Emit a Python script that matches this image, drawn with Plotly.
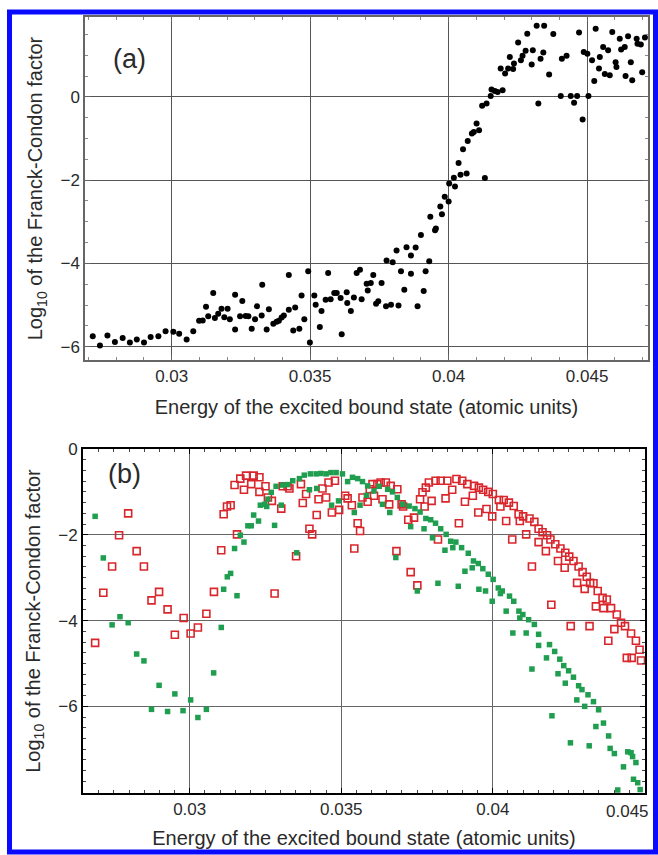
import plotly.graph_objects as go

# ---------------- data: panel (a) ----------------
A_X = [0.02715,0.02741,0.02768,0.02795,0.02823,0.02849,0.02874,0.02900,0.02924,0.02952,
       0.02978,0.03006,0.03027,0.03054,0.03078,0.03099,0.03112,0.03124,0.03132,0.03150,
       0.03156,0.03168,0.03180,0.03190,0.03202,0.03210,0.03229,0.03229,0.03247,0.03255,
       0.03267,0.03277,0.03289,0.03301,0.03308,0.03325,0.03327,0.03343,0.03351,0.03367,
       0.03379,0.03387,0.03397,0.03405,0.03423,0.03423,0.03439,0.03446,0.03461,0.03469,
       0.03479,0.03493,0.03499,0.03515,0.03520,0.03535,0.03541,0.03556,0.03565,0.03574,
       0.03587,0.03596,0.03610,0.03614,0.03632,0.03634,0.03647,0.03658,0.03668,0.03680,
       0.03686,0.03704,0.03708,0.03719,0.03728,0.03738,0.03746,0.03758,0.03774,0.03776,
       0.03792,0.03798,0.03812,0.03819,0.03828,0.03840,0.03848,0.03864,0.03864,0.03881,
       0.03888,0.03900,0.03910,0.03917,0.03930,0.03934,0.03951,0.03954,0.03970,0.03976,
       0.03986,0.04000,0.04002,0.04023,0.04019,0.04036,0.04043,0.04052,0.04065,0.04069,
       0.04084,0.04091,0.04101,0.04110,0.04121,0.04131,0.04137,0.04152,0.04155,0.04167,
       0.04177,0.04195,0.04188,0.04204,0.04215,0.04221,0.04233,0.04236,0.04251,0.04261,
       0.04267,0.04278,0.04284,0.04300,0.04304,0.04318,0.04324,0.04332,0.04342,0.04345,
       0.04363,0.04378,0.04405,0.04409,0.04426,0.04441,0.04453,0.04464,0.04471,0.04484,
       0.04488,0.04501,0.04505,0.04518,0.04526,0.04531,0.04543,0.04546,0.04558,0.04564,
       0.04576,0.04582,0.04591,0.04603,0.04606,0.04618,0.04623,0.04636,0.04639,0.04648,
       0.04658,0.04663,0.04679,0.04682,0.04694,0.04699,0.04709]
A_Y = [-5.75,-5.97,-5.73,-5.89,-5.79,-5.90,-5.83,-5.90,-5.77,-5.75,
       -5.63,-5.64,-5.69,-5.83,-5.63,-5.38,-5.37,-5.04,-5.27,-4.71,
       -5.31,-5.21,-5.09,-5.29,-5.09,-5.34,-4.75,-5.59,-5.27,-4.90,
       -5.26,-5.27,-5.57,-5.34,-5.03,-5.25,-4.51,-5.59,-5.10,-5.45,
       -5.40,-5.38,-5.30,-5.25,-4.28,-5.11,-5.61,-5.06,-5.57,-4.77,
       -5.34,-4.19,-5.90,-4.77,-4.99,-5.53,-5.14,-4.87,-4.23,-4.86,
       -4.71,-4.71,-4.83,-5.70,-4.69,-4.95,-5.14,-4.82,-4.23,-4.15,
       -4.86,-4.49,-4.65,-4.47,-4.28,-4.97,-4.91,-4.47,-5.03,-3.93,
       -4.99,-3.97,-3.69,-5.01,-4.19,-4.63,-3.61,-3.81,-4.25,-3.62,
       -5.03,-3.32,-4.66,-4.19,-3.95,-2.88,-3.20,-3.16,-2.63,-2.82,
       -2.40,-2.51,-2.08,-2.15,-1.94,-1.59,-1.87,-1.26,-1.84,-1.06,
       -0.88,-0.84,-0.64,-0.80,-0.21,-1.95,-0.16,0.02,0.18,0.14,
       0.12,0.16,0.68,0.56,0.68,0.96,0.67,0.80,1.31,0.88,
       0.99,1.11,1.52,0.78,1.12,1.71,-0.16,0.92,1.07,1.71,
       0.54,1.51,0.02,0.92,0.99,0.02,-0.14,0.02,1.55,-0.54,
       1.08,1.04,0.02,0.88,0.38,1.64,0.68,0.96,1.20,0.55,
       1.12,0.52,1.56,0.83,0.72,1.40,1.14,1.20,0.50,1.46,
       0.83,0.40,1.40,1.28,1.26,0.59,1.43]

# ---------------- data: panel (b) ----------------
B_RED_X = [0.02688,0.02715,0.02744,0.02767,0.02797,0.02825,0.02849,0.02874,0.02899,0.02927,
           0.02951,0.02980,0.03003,0.03027,0.03055,0.03080,0.03104,0.03112,0.03123,0.03135,
           0.03148,0.03156,0.03167,0.03179,0.03186,0.03203,0.03211,0.03230,0.03230,0.03250,
           0.03258,0.03271,0.03280,0.03302,0.03307,0.03323,0.03329,0.03351,0.03367,0.03373,
           0.03384,0.03395,0.03404,0.03419,0.03425,0.03438,0.03450,0.03458,0.03469,0.03479,
           0.03493,0.03513,0.03521,0.03535,0.03543,0.03554,0.03562,0.03570,0.03587,0.03594,
           0.03603,0.03608,0.03619,0.03630,0.03636,0.03647,0.03658,0.03663,0.03682,0.03685,
           0.03699,0.03704,0.03721,0.03729,0.03740,0.03751,0.03760,0.03768,0.03775,0.03779,
           0.03789,0.03798,0.03811,0.03819,0.03828,0.03844,0.03850,0.03866,0.03880,0.03888,
           0.03899,0.03908,0.03916,0.03934,0.03938,0.03952,0.03954,0.03968,0.03979,0.03985,
           0.03998,0.04000,0.04020,0.04025,0.04036,0.04044,0.04053,0.04064,0.04069,0.04085,
           0.04089,0.04100,0.04110,0.04121,0.04129,0.04137,0.04151,0.04151,0.04164,0.04175,
           0.04179,0.04190,0.04193,0.04206,0.04215,0.04223,0.04237,0.04239,0.04252,0.04257,
           0.04266,0.04278,0.04283,0.04296,0.04303,0.04310,0.04319,0.04321,0.04332,0.04340,
           0.04346,0.04362,0.04365,0.04376,0.04381,0.04390,0.04401,0.04409,0.04423,0.04436,
           0.04442,0.04456,0.04458,0.04472,0.04484,0.04489]
B_RED_Y = [-4.52,-3.35,-2.74,-2.01,-1.50,-2.38,-2.74,-3.53,-3.33,-3.74,
           -4.33,-3.94,-4.30,-4.16,-3.84,-3.33,-2.36,-1.52,-1.34,-1.31,
           -0.84,-1.99,-0.69,-0.95,-0.62,-0.82,-0.62,-0.66,-1.00,-0.87,
           -1.13,-1.21,-3.37,-1.39,-0.87,-0.87,-0.92,-2.50,-0.82,-1.26,
           -1.05,-1.86,-1.99,-1.54,-1.17,-0.92,-1.13,-0.78,-1.48,-0.74,
           -1.42,-1.09,-1.15,-1.31,-2.32,-1.73,-1.91,-1.13,-1.23,-0.94,
           -0.82,-1.09,-0.82,-0.78,-1.17,-0.78,-1.29,-0.86,-2.38,-0.94,
           -1.29,-1.34,-1.65,-2.87,-1.60,-3.18,-1.17,-1.01,-1.34,-0.90,
           -0.78,-1.21,-0.74,-2.11,-0.74,-1.15,-0.74,-0.95,-0.70,-1.73,
           -0.74,-1.23,-0.82,-1.09,-0.86,-1.48,-0.90,-0.95,-1.40,-1.00,
           -1.57,-1.05,-1.19,-1.34,-1.19,-1.68,-1.25,-2.11,-1.33,-1.52,
           -1.68,-1.57,-1.99,-1.62,-2.74,-1.70,-1.86,-2.17,-1.94,-2.38,
           -2.01,-2.11,-3.63,-2.22,-2.61,-2.32,-2.77,-2.42,-2.51,-4.13,
           -2.61,-3.12,-2.74,-2.87,-3.26,-2.98,-4.13,-3.12,-3.13,-3.67,
           -3.31,-3.47,-3.71,-3.51,-4.47,-3.71,-4.20,-3.86,-4.05,-4.13,
           -4.87,-4.30,-4.87,-4.47,-4.68,-4.93]

B_GREEN_X = [0.02688,0.02715,0.02744,0.02770,0.02797,0.02825,0.02849,0.02874,0.02899,0.02927,
             0.02951,0.02978,0.03003,0.03027,0.03055,0.03079,0.03104,0.03112,0.03124,0.03135,
             0.03148,0.03156,0.03167,0.03179,0.03192,0.03203,0.03211,0.03227,0.03233,0.03247,
             0.03254,0.03258,0.03269,0.03280,0.03285,0.03302,0.03307,0.03323,0.03340,0.03353,
             0.03362,0.03378,0.03395,0.03398,0.03417,0.03419,0.03433,0.03450,0.03466,0.03468,
             0.03483,0.03491,0.03504,0.03521,0.03537,0.03543,0.03554,0.03562,0.03570,0.03583,
             0.03587,0.03608,0.03625,0.03636,0.03653,0.03660,0.03669,0.03680,0.03685,0.03702,
             0.03724,0.03729,0.03743,0.03751,0.03760,0.03773,0.03779,0.03795,0.03801,0.03811,
             0.03819,0.03828,0.03842,0.03846,0.03861,0.03868,0.03878,0.03886,0.03897,0.03908,
             0.03919,0.03932,0.03936,0.03952,0.03954,0.03967,0.03976,0.03985,0.03998,0.04001,
             0.04018,0.04025,0.04031,0.04044,0.04055,0.04066,0.04069,0.04086,0.04089,0.04099,
             0.04110,0.04118,0.04129,0.04137,0.04151,0.04151,0.04177,0.04187,0.04195,0.04204,
             0.04215,0.04221,0.04234,0.04239,0.04250,0.04256,0.04266,0.04277,0.04283,0.04294,
             0.04303,0.04314,0.04318,0.04332,0.04340,0.04349,0.04365,0.04382,0.04387,0.04401,
             0.04412,0.04431,0.04445,0.04456,0.04461,0.04464,0.04472,0.04478,0.04486]
B_GREEN_Y = [-1.57,-2.54,-4.10,-3.91,-4.05,-4.78,-4.94,-6.07,-5.51,-6.12,
             -5.71,-6.10,-5.85,-6.26,-6.07,-5.22,-4.16,-3.27,-2.98,-2.90,
             -2.32,-3.42,-2.01,-2.17,-1.79,-1.79,-1.54,-1.68,-1.31,-1.29,
             -1.34,-1.17,-1.01,-1.78,-0.87,-1.31,-0.84,-0.83,-0.74,-2.42,
             -0.69,-0.61,-0.95,-0.58,-0.58,-0.92,-0.57,-0.58,-0.55,-1.31,
             -0.55,-1.21,-0.58,-0.76,-0.66,-1.48,-0.69,-1.31,-0.76,-1.08,
             -0.86,-0.98,-0.87,-1.29,-0.94,-1.48,-1.00,-2.53,-1.13,-1.29,
             -1.33,-1.81,-1.39,-3.31,-1.47,-1.86,-1.62,-1.65,-2.07,-1.73,
             -3.13,-1.86,-2.36,-1.99,-2.15,-2.30,-2.17,-3.20,-2.30,-2.85,
             -2.43,-2.77,-2.61,-2.67,-3.27,-2.79,-3.31,-2.92,-3.55,-3.04,
             -3.24,-3.37,-3.31,-3.78,-3.43,-4.29,-3.55,-3.78,-3.94,-3.86,
             -4.29,-3.98,-5.13,-4.09,-4.32,-4.58,-4.87,-4.56,-6.22,-4.72,
             -5.24,-4.90,-5.05,-5.46,-5.17,-6.85,-5.32,-5.85,-5.52,-5.61,
             -6.00,-5.73,-6.92,-5.89,-6.47,-6.08,-6.39,-6.69,-6.98,-7.10,
             -7.95,-7.41,-7.06,-7.08,-7.17,-7.70,-7.31,-7.78,-7.94]

X_TICKS = [0.03, 0.035, 0.04, 0.045]
X_TICK_TEXT = ["0.03", "0.035", "0.04", "0.045"]
YA_TICKS = [0, -2, -4, -6]
YB_TICKS = [0, -2, -4, -6]
X_TITLE = "Energy of the excited bound state (atomic units)"
Y_TITLE = "Log<sub>10</sub> of the Franck-Condon factor"

W, H = 658, 855
FONT = "Liberation Sans, Arial, Helvetica, sans-serif"
TXT = "#2a2a2a"
TITLE_SIZE = 20
TICK_SIZE = 17

fig = go.Figure()
fig.add_trace(go.Scatter(x=A_X, y=A_Y, mode="markers", xaxis="x", yaxis="y",
                         marker=dict(color="black", size=6, symbol="circle"),
                         showlegend=False))
fig.add_trace(go.Scatter(x=B_RED_X, y=B_RED_Y, mode="markers", xaxis="x2", yaxis="y2",
                         marker=dict(color="#d8262c", size=7, symbol="square-open",
                                     line=dict(width=1.6, color="#d8262c")),
                         showlegend=False))
fig.add_trace(go.Scatter(x=B_GREEN_X, y=B_GREEN_Y, mode="markers", xaxis="x2", yaxis="y2",
                         marker=dict(color="#1f9e50", size=5.5, symbol="square",
                                     line=dict(width=0)),
                         showlegend=False))

def px2x(p):
    return p / W

def py2y(p):
    return 1 - p / H

common = dict(showline=True, mirror="allticks", ticks="inside", showgrid=True,
              zeroline=False, automargin=False, ticklabeloverflow="allow",
              tickfont=dict(family=FONT, size=TICK_SIZE, color=TXT))

# panel (b): last tick label sits at the frame edge, so it is drawn right-aligned
B_TICK_TEXT = X_TICK_TEXT[:-1] + [""]

fig.update_layout(
    width=W, height=H, margin=dict(l=0, r=0, t=0, b=0),
    paper_bgcolor="white", plot_bgcolor="white",
    font=dict(family=FONT, color=TXT),
    xaxis=dict(domain=[px2x(85), px2x(648)], range=[0.02687, 0.0472], anchor="y",
               tickvals=X_TICKS, ticktext=X_TICK_TEXT, linecolor="#666", linewidth=1.5,
               gridcolor="#555", gridwidth=1.3, ticklen=5, tickcolor="#666",
               minor=dict(dtick=0.001, tick0=0.03, ticklen=3, ticks="inside", tickcolor="#888"),
               title=dict(text=X_TITLE, font=dict(family=FONT, size=TITLE_SIZE, color=TXT), standoff=15),
               **common),
    yaxis=dict(domain=[py2y(360), py2y(17)], range=[-6.32, 1.92], anchor="x",
               tickvals=YA_TICKS, linecolor="#666", linewidth=1.5,
               gridcolor="#555", gridwidth=1.3, ticklen=5, tickcolor="#666",
               minor=dict(dtick=0.5, tick0=0, ticklen=3, ticks="inside", tickcolor="#888"),
               title=dict(text=Y_TITLE, font=dict(family=FONT, size=TITLE_SIZE, color=TXT), standoff=12),
               **common),
    xaxis2=dict(domain=[px2x(83), px2x(645)], range=[0.02648, 0.04502], anchor="y2",
                tickvals=X_TICKS, ticktext=B_TICK_TEXT, linecolor="black", linewidth=2,
                gridcolor="#666", gridwidth=1, ticklen=5, tickcolor="black",
                minor=dict(dtick=0.0005, tick0=0.03, ticklen=3, ticks="inside", tickcolor="#444"),
                title=dict(text=X_TITLE, font=dict(family=FONT, size=TITLE_SIZE, color=TXT), standoff=13),
                **common),
    yaxis2=dict(domain=[py2y(793), py2y(449)], range=[-8.02, 0.0], anchor="x2",
                tickvals=YB_TICKS, linecolor="black", linewidth=2,
                gridcolor="#666", gridwidth=1, ticklen=5, tickcolor="black",
                minor=dict(dtick=0.25, tick0=0, ticklen=3, ticks="inside", tickcolor="#444"),
                title=dict(text=Y_TITLE, font=dict(family=FONT, size=TITLE_SIZE, color=TXT), standoff=12),
                **common),
    annotations=[
        dict(text="(a)", x=px2x(111), y=py2y(42), xref="paper", yref="paper",
             showarrow=False, font=dict(family=FONT, size=27, color=TXT)),
        dict(text="(b)", x=px2x(106), y=py2y(474), xref="paper", yref="paper",
             showarrow=False, font=dict(family=FONT, size=27, color=TXT)),
        dict(text=X_TICK_TEXT[-1], x=X_TICKS[-1], xref="x2", y=py2y(811), yref="paper",
             xanchor="right", xshift=7, yanchor="middle", showarrow=False,
             font=dict(family=FONT, size=TICK_SIZE, color=TXT)),
    ],
    shapes=[dict(type="rect", xref="paper", yref="paper",
                 x0=px2x(9.5), x1=px2x(655.5), y0=py2y(852), y1=py2y(12),
                 line=dict(color="#0a0aff", width=5), fillcolor="rgba(0,0,0,0)", layer="above")],
)

fig.write_html("out.html")
